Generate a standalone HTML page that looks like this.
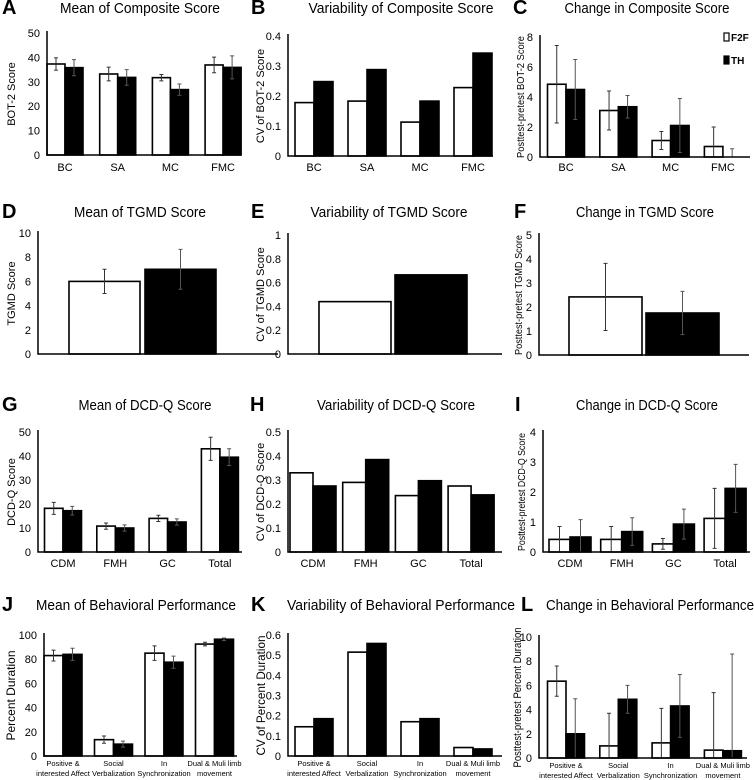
<!DOCTYPE html>
<html><head><meta charset="utf-8"><style>
body{margin:0;background:#fff}
svg{display:block;font-family:"Liberation Sans",sans-serif}
</style></head><body>
<svg id="fig" width="754" height="780" viewBox="0 0 754 780"></svg>
<script>
// ---- data ----
const catsA = ["BC","SA","MC","FMC"];
const f2fA = [37.3,33.2,31.7,36.9]; const thA = [35.8,31.8,26.8,35.9];
const f2fAerr = [2.5,2.8,1.3,3.2]; const thAerr = [3.3,3.2,2.3,4.7];
const yTicksA = [0,10,20,30,40,50];
const f2fB = [0.178,0.183,0.113,0.228]; const thB = [0.248,0.288,0.183,0.343];
const yTicksB = ["0","0.1","0.2","0.3","0.4"];
const f2fC = [4.85,3.1,1.1,0.7]; const thC = [4.5,3.35,2.1,0];
const f2fCerr = [2.58,1.3,0.6,1.3]; const thCerr = [2.0,0.75,1.8,0.55];
const yTicksC = [0,2,4,6,8];
const catsD = [""];
const f2fD = [6]; const thD = [7]; const f2fDerr = [1.0]; const thDerr = [1.65];
const yTicksD = [0,2,4,6,8,10];
const f2fE = [0.44]; const thE = [0.665];
const yTicksE = ["0","0.2","0.4","0.6","0.8","1"];
const f2fF = [2.42]; const thF = [1.75]; const f2fFerr = [1.4]; const thFerr = [0.9];
const yTicksF = [0,1,2,3,4,5];
const catsG = ["CDM","FMH","GC","Total"];
const f2fG = [18.2,10.8,14,43]; const thG = [17.2,10.0,12.5,39.5];
const f2fGerr = [2.5,1.3,1.3,4.8]; const thGerr = [1.8,1.3,1.3,3.5];
const yTicksG = [0,10,20,30,40,50];
const f2fH = [0.33,0.29,0.235,0.275]; const thH = [0.275,0.385,0.297,0.238];
const yTicksH = ["0","0.1","0.2","0.3","0.4","0.5"];
const f2fI = [0.42,0.42,0.27,1.12]; const thI = [0.5,0.68,0.93,2.12];
const f2fIerr = [0.43,0.43,0.18,1.0]; const thIerr = [0.58,0.46,0.5,0.8];
const yTicksI = [0,1,2,3,4];
const catsJ = [["Positive &","interested Affect"],["Social","Verbalization"],["In","Synchronization"],["Dual & Muli limb","movement"]];
const f2fJ = [83,13.5,85,92.5]; const thJ = [84,9.8,77.5,96.5];
const f2fJerr = [4.5,3,6,1.5]; const thJerr = [5,2.5,5,1];
const yTicksJ = [0,20,40,60,80,100];
const f2fK = [0.145,0.515,0.17,0.042]; const thK = [0.185,0.558,0.185,0.035];
const yTicksK = ["0","0.1","0.2","0.3","0.4","0.5","0.6"];
const f2fL = [6.35,1.0,1.25,0.65]; const thL = [2.0,4.85,4.3,0.6];
const f2fLerr = [1.25,2.7,2.85,4.75]; const thLerr = [2.9,1.15,2.6,8.0];
const yTicksL = [0,2,4,6,8,10];

const NS="http://www.w3.org/2000/svg";
const svg=document.getElementById('fig');
function mk(tag,attrs,parent){const e=document.createElementNS(NS,tag);for(const k in attrs)e.setAttribute(k,attrs[k]);(parent||svg).appendChild(e);return e;}

function panel(p){
  const g=mk('g',{});
  
  
  const ticks=p.ticks, max=parseFloat(ticks[ticks.length-1]);
  const y=v=>p.yb-(Math.max(0,Math.min(v,max))/max)*(p.yb-p.yt);
  const L=mk('text',{x:p.lx,y:p.ty+6,'font-size':20,'font-weight':'bold'},g);L.textContent=p.letter;
  
  
  const T=mk('text',{x:p.tx,y:p.ty+5,'font-size':14.5,'text-anchor':'middle',textLength:p.tl,lengthAdjust:'spacingAndGlyphs'},g);T.textContent=p.title;
  
  
  ticks.forEach(t=>{const tt=mk('text',{x:p.x0-7,y:y(parseFloat(t))+4,'font-size':11,'text-anchor':'end'},g);tt.textContent=t;
    
    });
  const yl=(p.yt+p.yb)/2;
  const ya={x:0,y:0,'font-size':p.yfs||11,'text-anchor':'middle',transform:`translate(${p.ylx},${yl}) rotate(-90)`};
  if(p.ytl){ya.textLength=p.ytl;ya.lengthAdjust='spacingAndGlyphs';}
  const YT=mk('text',ya,g);YT.textContent=p.ytitle;
  
  
  const gap=p.gap||0;
  p.cats.forEach((c,i)=>{
    const cx=p.c0+i*p.sp;
    [[p.f2f,'#fff',p.f2fErr,cx-p.w-gap/2],[p.th,'#000',p.thErr,cx+gap/2]].forEach(([arr,fill,err,bx],s)=>{
      const v=arr[i];
      if(v>0){const r=mk('rect',{x:bx,y:y(v),width:p.w,height:p.yb-y(v),fill:fill,stroke:'#000','stroke-width':1.6},g);
        
        }
      if(err){const ex=bx+p.w/2,e1=y(v+err[i]),e0=y(v-err[i]);
        const el=mk('path',{d:`M${ex},${e0}V${e1}M${ex-2},${e1}H${ex+2}M${ex-2},${e0}H${ex+2}`,stroke:s?'#555':'#333','stroke-width':1,fill:'none'},g);
        
        }
    });
    const labs=Array.isArray(c)?c:[c];
    labs.forEach((l,k)=>{if(!l)return;const t=mk('text',{x:cx,y:p.xly+k*10,'font-size':p.xfs||11,'text-anchor':'middle'},g);t.textContent=l;
      
      });
  });
  const ax=mk('path',{d:`M${p.x0},${p.yt-2}V${p.yb}H${p.x1}`,stroke:'#000','stroke-width':1.5,fill:'none'},g);
  
  
}

panel({name:'panel-a',letter:'A',lx:2,title:'Mean of Composite Score',tx:140,ty:8,tl:160,x0:47,x1:241,yt:33,yb:155,ticks:yTicksA,ytitle:'BOT-2 Score',ylx:15,cats:catsA,c0:65,sp:52.7,w:18,f2f:f2fA,th:thA,f2fErr:f2fAerr,thErr:thAerr,xly:171});
panel({name:'panel-b',letter:'B',lx:251,title:'Variability of Composite Score',tx:401,ty:8,tl:185,x0:288,x1:493,yt:36,yb:156,ticks:yTicksB,ytitle:'CV of BOT-2 Score',ylx:264,cats:catsA,c0:314,sp:53,w:19,f2f:f2fB,th:thB,xly:171});
panel({name:'panel-c',letter:'C',lx:513,title:'Change in Composite Score',tx:647,ty:8,tl:165,x0:540,x1:750,yt:37,yb:157,ticks:yTicksC,ytitle:'Posttest-pretest BOT-2 Score',ylx:524,yfs:10,ytl:122,cats:catsA,c0:566,sp:52.3,w:18.5,f2f:f2fC,th:thC,f2fErr:f2fCerr,thErr:thCerr,xly:171});
panel({name:'panel-d',letter:'D',lx:2,title:'Mean of TGMD Score',tx:140,ty:212,tl:132,x0:38,x1:278,yt:233,yb:354,ticks:yTicksD,ytitle:'TGMD Score',ylx:15,cats:catsD,c0:142.5,sp:0,w:71,gap:5,f2f:f2fD,th:thD,f2fErr:f2fDerr,thErr:thDerr,xly:370});
panel({name:'panel-e',letter:'E',lx:251,title:'Variability of TGMD Score',tx:389,ty:212,tl:157,x0:288,x1:502,yt:235,yb:354,ticks:yTicksE,ytitle:'CV of TGMD Score',ylx:264,cats:catsD,c0:393,sp:0,w:72,gap:4,f2f:f2fE,th:thE,xly:370});
panel({name:'panel-f',letter:'F',lx:514,title:'Change in TGMD Score',tx:645,ty:212,tl:138,x0:539,x1:749,yt:235,yb:355,ticks:yTicksF,ytitle:'Posttest-pretest TGMD Score',ylx:522,yfs:10,ytl:120,cats:catsD,c0:644,sp:0,w:73,gap:4,f2f:f2fF,th:thF,f2fErr:f2fFerr,thErr:thFerr,xly:370});
panel({name:'panel-g',letter:'G',lx:2,title:'Mean of DCD-Q Score',tx:145,ty:405,tl:133,x0:38,x1:242,yt:432,yb:552,ticks:yTicksG,ytitle:'DCD-Q Score',ylx:15,cats:catsG,c0:63,sp:52.3,w:18.5,f2f:f2fG,th:thG,f2fErr:f2fGerr,thErr:thGerr,xly:567});
panel({name:'panel-h',letter:'H',lx:250,title:'Variability of DCD-Q Score',tx:396,ty:405,tl:158,x0:288,x1:502,yt:432,yb:552,ticks:yTicksH,ytitle:'CV of DCD-Q Score',ylx:264,cats:catsG,c0:313,sp:52.7,w:23,f2f:f2fH,th:thH,xly:567});
panel({name:'panel-i',letter:'I',lx:515,title:'Change in DCD-Q Score',tx:647,ty:405,tl:142,x0:543,x1:750,yt:432,yb:552,ticks:yTicksI,ytitle:'Posttest-pretest DCD-Q Score',ylx:525,yfs:10,ytl:118,cats:catsG,c0:570,sp:51.7,w:21,f2f:f2fI,th:thI,f2fErr:f2fIerr,thErr:thIerr,xly:567});
panel({name:'panel-j',letter:'J',lx:2,title:'Mean of Behavioral Performance',tx:136,ty:605,tl:200,x0:44,x1:237,yt:635,yb:756,ticks:yTicksJ,ytitle:'Percent Duration',ylx:15,yfs:12,cats:catsJ,c0:63,sp:50.5,w:19,f2f:f2fJ,th:thJ,f2fErr:f2fJerr,thErr:thJerr,xly:766,xfs:7.5});
panel({name:'panel-k',letter:'K',lx:251,title:'Variability of Behavioral Performance',tx:401,ty:605,tl:228,x0:288,x1:502,yt:635,yb:756,ticks:yTicksK,ytitle:'CV of Percent Duration',ylx:265,yfs:12,ytl:120,cats:catsJ,c0:314,sp:53,w:19,f2f:f2fK,th:thK,xly:766,xfs:7.5});
panel({name:'panel-l',letter:'L',lx:521,title:'Change in Behavioral Performance',tx:650,ty:605,tl:208,x0:539,x1:747,yt:637,yb:758,ticks:yTicksL,ytitle:'Posttest-pretest Percent Duration',ylx:521,yfs:11,ytl:140,cats:catsJ,c0:566,sp:52.3,w:18.5,f2f:f2fL,th:thL,f2fErr:f2fLerr,thErr:thLerr,xly:768,xfs:7.5});

const lg=mk('g',{});


const s1=mk('rect',{x:724,y:33,width:5,height:8,fill:'#fff',stroke:'#000','stroke-width':1.2},lg);


const t1=mk('text',{x:731,y:41,'font-size':10,'font-weight':'bold'},lg);t1.textContent='F2F';


const s2=mk('rect',{x:724,y:56,width:5,height:8,fill:'#000',stroke:'#000','stroke-width':1.2},lg);


const t2=mk('text',{x:731,y:64,'font-size':10,'font-weight':'bold'},lg);t2.textContent='TH';


</script>
</body></html>
